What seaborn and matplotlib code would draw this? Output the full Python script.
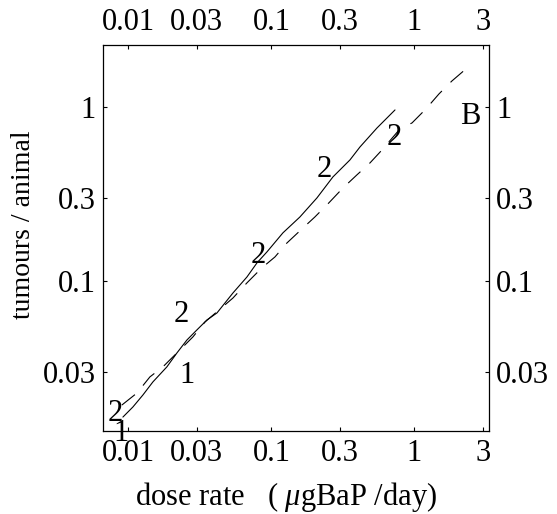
import numpy as np
import pandas as pd
import matplotlib
matplotlib.use("Agg")
import matplotlib.pyplot as plt
import seaborn as sns
from matplotlib.ticker import FixedLocator, NullLocator

sns.set_theme(style="ticks")
plt.rcParams["font.family"] = ["Liberation Serif", "DejaVu Serif"]
plt.rcParams["mathtext.fontset"] = "custom"
plt.rcParams["mathtext.rm"] = "Liberation Serif"
plt.rcParams["mathtext.it"] = "Liberation Serif:italic"
plt.rcParams["text.color"] = "black"
plt.rcParams["axes.labelcolor"] = "black"
plt.rcParams["xtick.color"] = "black"
plt.rcParams["ytick.color"] = "black"

# curve 1 (solid)
dose_solid = [0.00915, 0.01075, 0.01263, 0.01483, 0.01858, 0.02184, 0.02565, 0.0301,
              0.0354, 0.0416, 0.0538, 0.0674, 0.0792, 0.0931, 0.1203, 0.158, 0.208,
              0.269, 0.354, 0.416, 0.547, 0.731]
tum_solid = [0.01652, 0.01888, 0.02213, 0.0263, 0.0321, 0.0386, 0.0458, 0.0523,
             0.0597, 0.0655, 0.0853, 0.1054, 0.127, 0.147, 0.189, 0.233, 0.300,
             0.396, 0.496, 0.589, 0.757, 0.961]

# curve 2 (dashed)
dose_dash = [0.0090, 0.01147, 0.01413, 0.01742, 0.02218, 0.02825, 0.0343, 0.0538,
             0.0674, 0.0858, 0.1058, 0.1283, 0.1633, 0.201, 0.252, 0.316, 0.396,
             0.489, 0.593, 0.792, 0.961, 1.203, 1.484, 1.828, 2.29]
tum_dash = [0.01937, 0.0227, 0.0281, 0.0321, 0.0391, 0.0477, 0.0581, 0.0798,
            0.0975, 0.119, 0.1374, 0.1653, 0.199, 0.233, 0.281, 0.342, 0.407,
            0.477, 0.566, 0.748, 0.809, 0.974, 1.188, 1.41, 1.653]

# curve markers
mark_text = ["2", "1", "1", "2", "2", "2", "2", "B"]
mark_x = [0.00805, 0.00887, 0.0256, 0.0233, 0.0805, 0.233, 0.719, 2.44]
mark_y = [0.0174, 0.01337, 0.0288, 0.0638, 0.141, 0.435, 0.664, 0.876]

x_ticks = [0.01, 0.03, 0.1, 0.3, 1, 3]
x_labels = ["0.01", "0.03", "0.1", "0.3", "1", "3"]
y_ticks = [0.03, 0.1, 0.3, 1]
y_labels = ["0.03", "0.1", "0.3", "1"]

solid = pd.DataFrame({"dose": dose_solid, "tumours": tum_solid})
dash = pd.DataFrame({"dose": dose_dash, "tumours": tum_dash})

fig = plt.figure(figsize=(5.57, 5.14), dpi=100)
ax = fig.add_axes([0.1849, 0.1615, 0.693, 0.751])

sns.lineplot(data=solid, x="dose", y="tumours", sort=False, color="black",
             linewidth=0.8, ax=ax)
sns.lineplot(data=dash, x="dose", y="tumours", sort=False, color="black",
             linewidth=0.8, ax=ax)
ax.lines[-1].set_dashes((15, 11))

ax.set_xscale("log")
ax.set_yscale("log")
ax.set_xlim(0.00664, 3.32)
ax.set_ylim(0.01374, 2.27)

for t, x, y in zip(mark_text, mark_x, mark_y):
    ax.text(x, y, t, fontsize=22, ha="center", va="center", clip_on=False)

ax.xaxis.set_major_locator(FixedLocator(x_ticks))
ax.xaxis.set_minor_locator(NullLocator())
ax.set_xticklabels(x_labels)
ax.yaxis.set_major_locator(FixedLocator(y_ticks))
ax.yaxis.set_minor_locator(NullLocator())
ax.set_yticklabels(y_labels)

ax.tick_params(which="major", direction="in", length=3, width=0.8, colors="black",
               top=True, right=True, labeltop=True, labelright=True,
               labelsize=22, pad=5)
ax.tick_params(axis="x", which="major", labelbottom=True, pad=6)
ax.tick_params(axis="y", which="major", pad=5)

for s in ax.spines.values():
    s.set_color("black")
    s.set_linewidth(0.9)

ax.set_xlabel("dose rate   ( $\\mu$gBaP /day)", fontsize=22)
ax.set_ylabel("tumours / animal", fontsize=20)
ax.xaxis.set_label_coords(0.474, -0.171)
ax.yaxis.set_label_coords(-0.205, 0.534)
ax.xaxis.label.set_va("center")
ax.yaxis.label.set_va("center")

fig.savefig("out.png", dpi=100)
